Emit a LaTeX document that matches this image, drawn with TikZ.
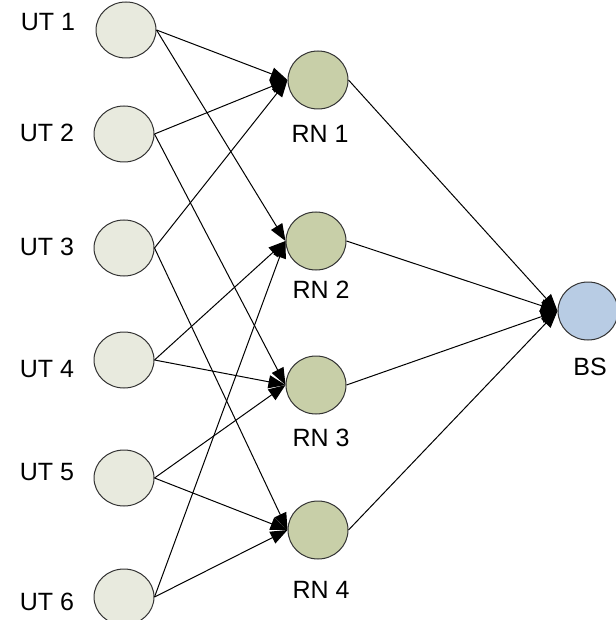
\documentclass[tikz,border=0pt]{standalone}
\usepackage{fontspec}
\setmainfont{Liberation Sans}
\usepackage{tikz}
\usetikzlibrary{shapes}
\usetikzlibrary{positioning, arrows.meta}
\usepackage{xcolor}

\definecolor{utfill}{RGB}{232,234,222}
\definecolor{rnfill}{RGB}{200,207,168}
\definecolor{bsfill}{RGB}{184,204,228}

\begin{document}
\begin{tikzpicture}[x=0.5pt, y=-0.5pt, line width=0.5pt,
    font=\fontsize{12.5}{14}\selectfont,
    ut/.style = {draw=black!80, fill=utfill, ellipse, inner sep=0pt, minimum width=30pt, minimum height=28pt},
    rn/.style = {draw=black!80, fill=rnfill, ellipse, inner sep=0pt, minimum width=30pt, minimum height=29pt},
    bs/.style = {draw=black!80, fill=bsfill, ellipse, inner sep=0pt, minimum width=30pt, minimum height=29pt},
    lbl/.style = {inner sep=0pt},
    link/.style = {-{Triangle[length=8.5pt, width=6.5pt]}}]
    \useasboundingbox (0,0) rectangle (615,620);

    % User terminals
    \node[ut] (ut1) at (126,30) {};
    \node[ut] (ut2) at (124,134) {};
    \node[ut] (ut3) at (124,248) {};
    \node[ut] (ut4) at (124,360) {};
    \node[ut] (ut5) at (124,478) {};
    \node[ut] (ut6) at (124,597) {};

    \node[lbl] (lut1) at (48,22) {UT 1};
    \node[lbl] (lut2) at (47,133) {UT 2};
    \node[lbl] (lut3) at (47,247) {UT 3};
    \node[lbl] (lut4) at (47,369) {UT 4};
    \node[lbl] (lut5) at (47,472) {UT 5};
    \node[lbl] (lut6) at (47,602) {UT 6};

    % Relay nodes
    \node[rn] (rn1) at (318,80) {};
    \node[rn] (rn2) at (316,241) {};
    \node[rn] (rn3) at (316,385) {};
    \node[rn] (rn4) at (318,530) {};

    \node[lbl] (lrn1) at (320,134) {RN 1};
    \node[lbl] (lrn2) at (321,290) {RN 2};
    \node[lbl] (lrn3) at (321,438) {RN 3};
    \node[lbl] (lrn4) at (321,590) {RN 4};

    % Base station
    \node[bs] (bs) at (588,311) {};
    \node[lbl] (lbs) at (590,367) {BS};

    % UT -> RN links
    \draw[link] (ut1.east) -- (rn1.west);
    \draw[link] (ut1.east) -- (rn2.west);
    \draw[link] (ut2.east) -- (rn1.west);
    \draw[link] (ut2.east) -- (rn3.west);
    \draw[link] (ut3.east) -- (rn1.west);
    \draw[link] (ut3.east) -- (rn4.west);
    \draw[link] (ut4.east) -- (rn2.west);
    \draw[link] (ut4.east) -- (rn3.west);
    \draw[link] (ut5.east) -- (rn3.west);
    \draw[link] (ut5.east) -- (rn4.west);
    \draw[link] (ut6.east) -- (rn2.west);
    \draw[link] (ut6.east) -- (rn4.west);

    % RN -> BS links
    \draw[link] (rn1.east) -- (bs.west);
    \draw[link] (rn2.east) -- (bs.west);
    \draw[link] (rn3.east) -- (bs.west);
    \draw[link] (rn4.east) -- (bs.west);
\end{tikzpicture}
\end{document}
